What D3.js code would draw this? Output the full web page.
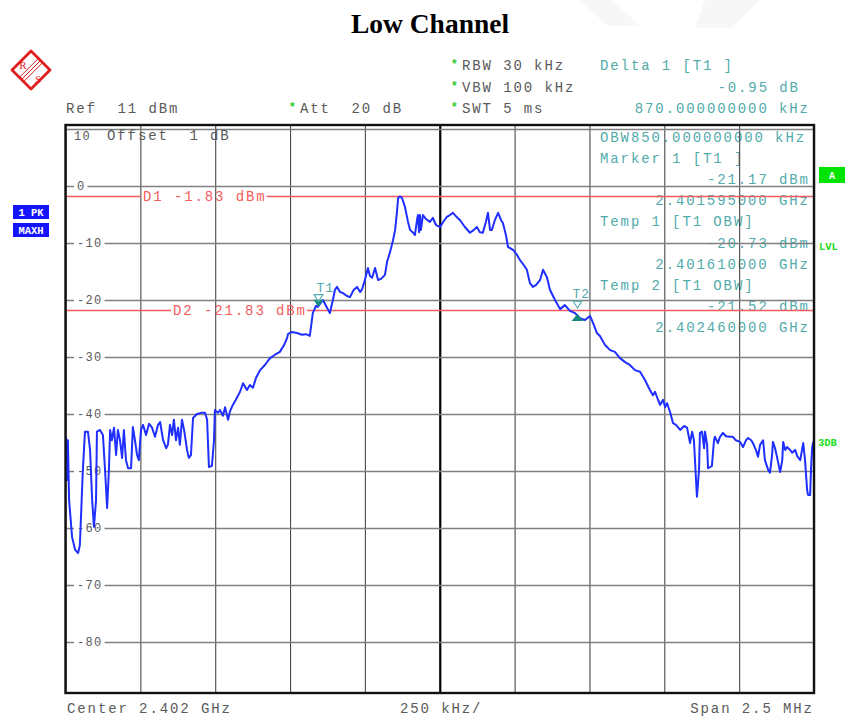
<!DOCTYPE html>
<html><head><meta charset="utf-8">
<script src="https://cdn.jsdelivr.net/npm/d3@7/dist/d3.min.js"></script>
<style>
html,body{margin:0;padding:0;background:#fff;}
svg{display:block;}
.mono{font-family:"Courier New","Liberation Mono",monospace;}
</style></head>
<body>
<svg id="chart" width="848" height="717"></svg>
<script>
// ---------------- data ----------------
const title = "Low Channel";
const centerGHz = 2.402;
const spanKHz = 2500;            // span 2.5 MHz
const refDbm = 10;               // top grid line
const yTicks = [10, 0, -10, -20, -30, -40, -50, -60, -70, -80];
const xTicksKHz = [0, 250, 500, 750, 1000, 1250, 1500, 1750, 2000, 2250, 2500];
// trace: frequency offset from span start (kHz) and level (dBm)
const traceKHz = [2,5,8,12,22,32,42,48,58,65,75,82,89,95,102,105,115,125,132,139,
145,149,155,162,169,175,182,189,195,202,209,219,225,232,239,245,252,259,269,279,
289,299,309,316,326,336,342,349,356,362,369,376,382,389,396,406,412,419,426,439,
453,466,473,479,489,496,499,509,516,526,533,543,549,559,569,583,593,606,616,626,
636,650,666,683,700,716,730,740,743,756,773,790,803,816,826,837,843,850,860,870,
883,893,900,907,917,927,940,950,963,974,984,990,1000,1010,1017,1024,1034,1044,1054,1067,
1074,1084,1094,1101,1107,1111,1117,1124,1134,1144,1151,1161,1167,1174,1177,1181,1184,1187,1194,1204,
1217,1227,1237,1251,1264,1274,1284,1294,1304,1318,1334,1351,1364,1374,1384,1394,1404,1411,1418,1424,
1434,1445,1455,1461,1471,1478,1495,1508,1518,1531,1541,1551,1561,1571,1585,1595,1601,1608,1618,1635,
1652,1668,1685,1702,1718,1735,1752,1765,1775,1785,1802,1819,1835,1852,1869,1885,1902,1919,1935,1952,
1962,1969,1979,1986,1996,2003,2009,2019,2029,2039,2053,2066,2076,2086,2093,2099,2106,2109,2116,2119,
2126,2133,2136,2143,2146,2153,2159,2166,2169,2179,2186,2196,2206,2219,2229,2239,2253,2263,2273,2280,
2290,2296,2306,2313,2320,2330,2336,2347,2353,2360,2363,2370,2377,2387,2394,2397,2404,2410,2420,2427,
2437,2444,2454,2460,2464,2470,2477,2480,2487,2490,2494,2497,2500];
const traceDbm = [-44.0,-51.6,-44.6,-55.1,-61.6,-63.8,-64.4,-63.0,-49.8,-43.1,-43.1,-46.3,-55.1,-59.8,-55.1,-43.1,-42.8,-43.7,-49.8,-56.5,
-49.8,-42.8,-44.6,-42.4,-47.2,-42.8,-44.6,-47.7,-42.8,-48.1,-49.5,-49.5,-42.3,-44.6,-47.2,-48.1,-42.8,-41.9,-43.7,-41.7,
-42.4,-44.0,-41.9,-41.4,-44.6,-46.0,-45.4,-41.9,-43.7,-41.0,-44.6,-42.4,-45.4,-41.0,-42.8,-46.3,-47.7,-47.2,-40.7,-40.0,
-39.8,-39.8,-41.0,-49.3,-49.1,-44.6,-39.3,-39.8,-39.3,-40.3,-38.8,-41.0,-39.6,-38.4,-37.5,-36.1,-34.6,-35.8,-34.9,-35.4,
-33.7,-32.3,-31.4,-30.2,-29.6,-29.1,-27.9,-26.7,-26.0,-25.6,-25.8,-26.1,-26.0,-26.3,-22.3,-21.0,-21.2,-20.7,-20.0,-21.0,
-22.3,-20.0,-18.2,-17.7,-18.6,-18.8,-19.3,-19.5,-18.2,-17.7,-18.6,-18.2,-16.5,-14.4,-15.8,-16.1,-14.4,-16.5,-16.3,-15.6,
-13.3,-11.6,-9.5,-7.7,-4.6,-2.1,-1.83,-2.1,-3.7,-6.3,-7.7,-8.2,-8.6,-6.0,-5.1,-8.1,-5.1,-7.7,-5.1,-5.8,
-6.3,-5.6,-6.8,-7.2,-6.1,-5.4,-5.1,-4.7,-5.3,-6.0,-7.2,-8.2,-7.7,-7.2,-8.1,-8.2,-6.3,-4.7,-7.7,-7.7,
-6.0,-4.7,-6.0,-6.5,-8.6,-10.7,-11.2,-12.1,-13.0,-13.9,-14.7,-17.0,-17.7,-17.4,-16.5,-14.7,-15.3,-16.0,-18.2,-20.0,
-21.6,-20.9,-21.9,-22.3,-23.2,-23.5,-22.8,-24.4,-25.8,-26.3,-27.9,-28.8,-29.1,-30.2,-30.9,-31.4,-32.3,-32.6,-34.0,-35.8,
-36.7,-36.1,-37.5,-38.4,-37.5,-38.8,-38.1,-39.6,-41.6,-41.9,-42.8,-42.1,-42.4,-45.1,-43.1,-44.6,-51.6,-54.5,-49.8,-43.3,
-43.1,-46.0,-43.1,-45.4,-49.5,-49.3,-49.1,-44.6,-44.0,-45.1,-44.0,-43.3,-43.9,-44.0,-44.0,-44.6,-44.9,-45.8,-44.6,-44.2,
-44.6,-45.1,-46.3,-47.5,-45.4,-44.6,-48.1,-49.8,-50.3,-47.2,-44.9,-46.0,-47.7,-50.2,-48.1,-44.9,-46.3,-45.8,-46.3,-46.8,
-46.3,-47.4,-48.1,-46.3,-45.1,-48.1,-53.3,-54.2,-54.2,-49.8,-45.8,-45.1,-44.6];
// display lines
const displayLines = [{name:"D1", dbm:-1.83}, {name:"D2", dbm:-21.83}];
// markers (GHz, dBm)
const markers = [{label:"T1", ghz:2.401595, dbm:-21.17, filled:"down"},
                 {label:"T2", ghz:2.402460, dbm:-22.12, filled:"up"}];
// header / marker info texts
const headerLeft = ["Ref  11 dBm"];
const headerAtt = "Att  20 dB";
const headerSweep = ["RBW 30 kHz", "VBW 100 kHz", "SWT 5 ms"];
const deltaInfo = ["Delta 1 [T1 ]", "-0.95 dB", "870.000000000 kHz"];
const markerInfo = [
  {t:"OBW850.000000000 kHz", a:"start"},
  {t:"Marker 1 [T1 ]", a:"start"},
  {t:"-21.17 dBm", a:"end"},
  {t:"2.401595000 GHz", a:"end"},
  {t:"Temp 1 [T1 OBW]", a:"start"},
  {t:"-20.73 dBm", a:"end"},
  {t:"2.401610000 GHz", a:"end"},
  {t:"Temp 2 [T1 OBW]", a:"start"},
  {t:"-21.52 dBm", a:"end"},
  {t:"2.402460000 GHz", a:"end"}];
const bottomLabels = ["Center 2.402 GHz", "250 kHz/", "Span 2.5 MHz"];

// ---------------- drawing ----------------
const svg = d3.select("#chart");
const L = 65.5, R = 814, T = 125, B = 693;
const x = d3.scaleLinear().domain([0, spanKHz]).range([L, R]);
const y = d3.scaleLinear().domain([10, -80]).range([129, 642]);
const startGHz = centerGHz - spanKHz / 2 / 1e6;
const ghzToKHz = g => (g - startGHz) * 1e6;

const GRAY = "#5a5a5a", TEAL = "#52abab", RED = "#f25c5c";
const FS = 14, LS = 1.9;

// faint watermark
const wm = svg.append("g").attr("fill", "#f7f7f7");
wm.append("path").attr("d", "M580,0 L612,0 L640,26 L608,26 Z");
wm.append("path").attr("d", "M705,0 L760,0 L732,28 L695,28 Z");

// title
svg.append("text").attr("x", 430).attr("y", 33).attr("text-anchor", "middle")
  .attr("font-family", "'Times New Roman','Liberation Serif',serif").attr("font-weight", "bold")
  .attr("font-size", 27.5).text(title);

// logo
const logo = svg.append("g").attr("transform", "translate(31,70)");
logo.append("path").attr("d", "M0,-19 L19,0 L0,19 L-19,0 Z").attr("fill", "#fff")
  .attr("stroke", "#e01e1e").attr("stroke-width", 2.8).attr("stroke-linejoin", "round");
[-3, 0, 3].forEach(o => logo.append("line")
  .attr("x1", 10 + o * 0.7).attr("y1", -10 + o * 0.7).attr("x2", -10 + o * 0.7).attr("y2", 10 + o * 0.7)
  .attr("stroke", "#e01e1e").attr("stroke-width", 1));
logo.append("text").attr("x", -8).attr("y", -1).attr("font-size", 11).attr("fill", "#e01e1e")
  .attr("font-family", "'Liberation Serif',serif").attr("text-anchor", "middle").text("R");
logo.append("text").attr("x", 7).attr("y", 13).attr("font-size", 11).attr("fill", "#e01e1e")
  .attr("font-family", "'Liberation Serif',serif").attr("text-anchor", "middle").text("S");

function mono(g, txt, xx, yy, opts = {}) {
  const t = g.append("text").attr("class", "mono")
    .attr("x", opts.anchor === "end" ? xx + (opts.ls ?? LS) : xx).attr("y", yy)
    .attr("font-size", opts.fs ?? FS).attr("letter-spacing", (opts.ls ?? LS) + "px")
    .attr("fill", opts.fill ?? GRAY).attr("text-anchor", opts.anchor ?? "start")
    .style("white-space", "pre").text(txt);
  if (opts.bold) t.attr("font-weight", "bold");
  return t;
}
function star(g, xx, yy) {
  g.append("text").attr("x", xx).attr("y", yy).attr("font-size", 12).attr("font-family", "Arial,sans-serif")
    .attr("font-weight", "bold").attr("fill", "#2ecc2e").text("*");
}

// header
const hdr = svg.append("g");
mono(hdr, headerLeft[0], 66, 113);
star(hdr, 290, 111); mono(hdr, headerAtt, 300, 113);
headerSweep.forEach((t, i) => { star(hdr, 452, 68 + i * 21.5); mono(hdr, t, 462, 70 + i * 21.5); });
mono(hdr, deltaInfo[0], 600, 70, {fill: TEAL});
mono(hdr, deltaInfo[1], 798, 91.5, {fill: TEAL, anchor: "end"});
mono(hdr, deltaInfo[2], 808, 113, {fill: TEAL, anchor: "end"});

// left boxes
[["1 PK", 205], ["MAXH", 223]].forEach(([t, yy]) => {
  svg.append("rect").attr("x", 13).attr("y", yy).attr("width", 36).attr("height", 14).attr("fill", "#1414ff");
  svg.append("text").attr("x", 31).attr("y", yy + 10.5).attr("text-anchor", "middle")
    .attr("font-family", "'Courier New','Liberation Mono',monospace").attr("font-weight", "bold")
    .attr("font-size", 10.5).attr("fill", "#fff").style("white-space", "pre").text(t);
});
// right indicators
svg.append("rect").attr("x", 819).attr("y", 167).attr("width", 26).attr("height", 16).attr("fill", "#00e400");
svg.append("text").attr("x", 832).attr("y", 179).attr("text-anchor", "middle").attr("font-size", 10)
  .attr("font-family", "'Courier New','Liberation Mono',monospace").attr("font-weight", "bold").attr("fill", "#fff").text("A");
svg.append("text").attr("x", 819).attr("y", 250).attr("font-size", 10.5).attr("font-weight", "bold")
  .attr("font-family", "'Courier New','Liberation Mono',monospace").attr("fill", "#22dd22").text("LVL");
svg.append("text").attr("x", 818).attr("y", 446).attr("font-size", 10.5).attr("font-weight", "bold")
  .attr("font-family", "'Courier New','Liberation Mono',monospace").attr("fill", "#22dd22").text("3DB");

// plot group
const plot = svg.append("g");
// marker info text (under grid)
markerInfo.forEach((m, i) => {
  mono(plot, m.t, m.a === "end" ? 808 : 600, 142 + i * 21.1, {fill: TEAL, anchor: m.a});
});

// grid via axes
const gx = plot.append("g").attr("transform", `translate(0,${B})`)
  .call(d3.axisBottom(x).tickValues(xTicksKHz).tickSize(-(B - T)).tickFormat(""));
gx.select(".domain").remove();
gx.selectAll(".tick line").attr("stroke", "#4a4a4a").attr("stroke-width", 1.1)
  .filter(d => d === spanKHz / 2).attr("stroke", "#000").attr("stroke-width", 2.2);
const gy = plot.append("g").attr("transform", `translate(${L},0)`)
  .call(d3.axisLeft(y).tickValues(yTicks).tickSize(-(R - L)).tickFormat(""));
gy.select(".domain").remove();
gy.selectAll(".tick line").attr("stroke", "#808080").attr("stroke-width", 1.7);

// y tick labels with white gaps
yTicks.filter(v => v !== refDbm).forEach(v => {
  const t = mono(plot, String(v), 77, y(v) + 4.3, {fs: 12, ls: 1.3});
  const bb = t.node().getBBox();
  plot.insert("rect", () => t.node()).attr("x", 74).attr("y", y(v) - 3)
    .attr("width", bb.width + 5).attr("height", 6).attr("fill", "#fff");
});
mono(plot, String(refDbm), 74, 140, {fs: 12, ls: 1.3});
mono(plot, "Offset  1 dB", 107, 140);

// display lines with labels
displayLines.forEach((d, i) => {
  const yy = y(d.dbm);
  const lx = i === 0 ? 143 : 173;
  const t = mono(plot, `${d.name} ${d.dbm.toFixed(2)} dBm`, lx, yy + 4.5, {fill: RED});
  const bb = t.node().getBBox();
  plot.append("line").attr("x1", L).attr("x2", lx - 2).attr("y1", yy).attr("y2", yy)
    .attr("stroke", RED).attr("stroke-width", 1.6);
  plot.append("line").attr("x1", bb.x + bb.width).attr("x2", R).attr("y1", yy).attr("y2", yy)
    .attr("stroke", RED).attr("stroke-width", 1.6);
});

// trace
svg.append("clipPath").attr("id", "clip").append("rect")
  .attr("x", L).attr("y", T).attr("width", R - L).attr("height", B - T);
const pts = d3.zip(traceKHz, traceDbm);
plot.append("path").datum(pts).attr("clip-path", "url(#clip)")
  .attr("d", d3.line().x(d => x(d[0])).y(d => y(d[1])))
  .attr("fill", "none").attr("stroke", "#1e2fff").attr("stroke-width", 2)
  .attr("stroke-linejoin", "round");

// markers
markers.forEach(m => {
  const mx = x(ghzToKHz(m.ghz)), my = y(m.dbm);
  const g = plot.append("g");
  if (m.filled === "down") {
    g.append("path").attr("d", `M${mx - 5},${my - 7} L${mx + 5},${my - 7} L${mx},${my} Z`).attr("fill", "#138a80");
    g.append("path").attr("d", `M${mx - 4.5},${my - 12} L${mx + 4.5},${my - 12} L${mx},${my - 5} Z`)
      .attr("fill", "none").attr("stroke", TEAL).attr("stroke-width", 1.1);
    mono(g, m.label, mx - 2, my - 15, {fill: TEAL, fs: 13, ls: 1});
  } else {
    g.append("path").attr("d", `M${mx - 6},${my + 9} L${mx + 6},${my + 9} L${mx},${my + 2} Z`).attr("fill", "#138a80");
    g.append("path").attr("d", `M${mx - 4.5},${my - 11} L${mx + 4.5},${my - 11} L${mx},${my - 4} Z`)
      .attr("fill", "none").attr("stroke", TEAL).attr("stroke-width", 1.1);
    mono(g, m.label, mx - 5, my - 14, {fill: TEAL, fs: 13, ls: 1});
  }
});

// frame
plot.append("rect").attr("x", L).attr("y", T).attr("width", R - L).attr("height", B - T)
  .attr("fill", "none").attr("stroke", "#111").attr("stroke-width", 2.4);

// bottom labels
mono(svg, bottomLabels[0], 67, 713);
mono(svg, bottomLabels[1], 400, 713);
mono(svg, bottomLabels[2], 812, 713, {anchor: "end"});
</script>
</body></html>
